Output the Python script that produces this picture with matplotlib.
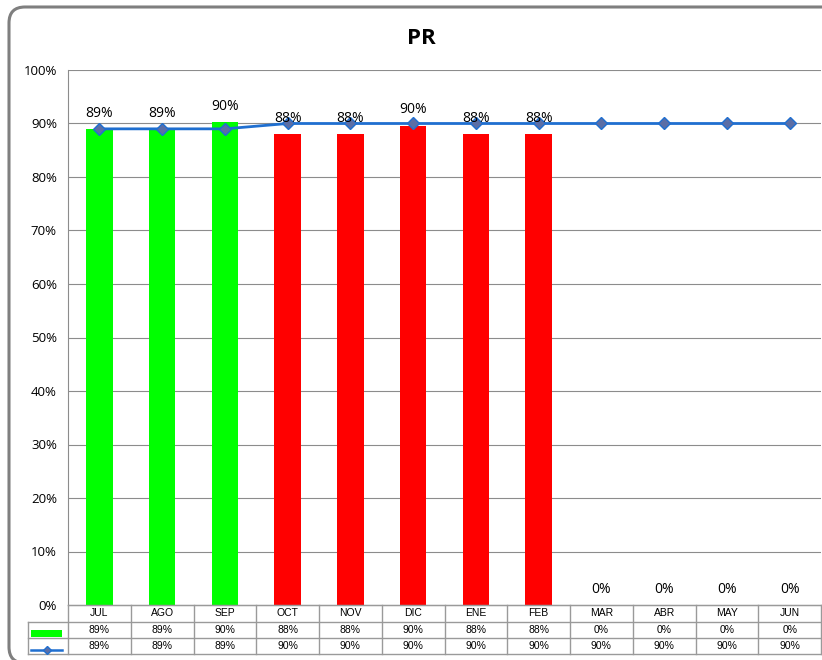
import matplotlib
matplotlib.use("Agg")
import matplotlib.pyplot as plt
from matplotlib.patches import Rectangle, PathPatch
from matplotlib.path import Path
from matplotlib.lines import Line2D
import numpy as np

months = ["JUL", "AGO", "SEP", "OCT", "NOV", "DIC", "ENE", "FEB", "MAR", "ABR", "MAY", "JUN"]
pr_values = [88.9, 88.9, 90.2, 88.0, 88.0, 89.6, 88.0, 88.0, 0, 0, 0, 0]
target_values = [89, 89, 89, 90, 90, 90, 90, 90, 90, 90, 90, 90]
bar_colors = ["#00FF00", "#00FF00", "#00FF00", "#FF0000", "#FF0000", "#FF0000",
              "#FF0000", "#FF0000", "#FF0000", "#FF0000", "#FF0000", "#FF0000"]
yticks = [0, 10, 20, 30, 40, 50, 60, 70, 80, 90, 100]

W, H = 822, 660
fig = plt.figure(figsize=(W / 100, H / 100), dpi=100)
fig.patch.set_facecolor("white")

def fx(px):
    return px / W

def fy(py):
    return 1 - py / H

# outer border: straight top running off the right edge, rounded left corners
r = 16
pts = [(835, 7), (9 + r, 7), (9, 7), (9, 7 + r), (9, 663 - r), (9, 663), (9 + r, 663), (835, 663)]
codes = [Path.MOVETO, Path.LINETO, Path.CURVE3, Path.CURVE3, Path.LINETO,
         Path.CURVE3, Path.CURVE3, Path.LINETO]
path = Path([(fx(a), fy(b)) for a, b in pts], codes)
fig.add_artist(PathPatch(path, transform=fig.transFigure, facecolor="none",
                         edgecolor="#7F7F7F", linewidth=2.2, zorder=0))

L, R, T, B = 68, 821, 70, 605
ax = fig.add_axes([fx(L), fy(B), fx(R) - fx(L), fy(T) - fy(B)])
n = len(months)
x = np.arange(n)
ax.set_xlim(-0.5, n - 0.5)
ax.set_ylim(0, 100)

for yv in yticks[1:]:
    ax.axhline(yv, color="#8C8C8C", linewidth=0.8, zorder=0)

ax.bar(x, pr_values, width=0.42, color=bar_colors, zorder=2)
ax.plot(x, target_values, color="#1F6FD0", linewidth=2, marker="D", markersize=6.5,
        markerfacecolor="#5B6EA6", markeredgecolor="#1F6FD0", markeredgewidth=1, zorder=3)

for xi, v in zip(x, pr_values):
    ax.annotate(f"{round(v):.0f}%", (xi, v), xytext=(0, 6), textcoords="offset points",
                ha="center", va="bottom", fontsize=10, family="Open Sans", zorder=4)

ax.set_yticks(yticks)
ax.set_yticklabels([f"{v}%" for v in yticks], family="Open Sans", fontsize=9.5)
ax.tick_params(axis="y", length=0, pad=8)
ax.set_xticks([])
for s in ["top", "right"]:
    ax.spines[s].set_visible(False)
ax.spines["left"].set_color("#8C8C8C")
ax.spines["bottom"].set_color("#8C8C8C")

fig.text(fx(421), fy(38), "PR", ha="center", va="center", fontsize=16,
         fontweight="bold", family="Open Sans")

# data table
cw = (R - L) / n
line_kw = dict(transform=fig.transFigure, color="#9A9A9A", linewidth=1)
tl = 28
rows = [605, 622, 638, 654]
fig.add_artist(Line2D([fx(L), fx(R)], [fy(605), fy(605)], **line_kw))
for ry in rows[1:]:
    fig.add_artist(Line2D([fx(tl), fx(R)], [fy(ry), fy(ry)], **line_kw))
for i in range(n + 1):
    xx = L + i * cw
    fig.add_artist(Line2D([fx(xx), fx(xx)], [fy(605), fy(654)], **line_kw))
fig.add_artist(Line2D([fx(tl), fx(tl)], [fy(622), fy(654)], **line_kw))

tk = dict(transform=fig.transFigure, ha="center", va="center", fontsize=7.5,
          family="Liberation Sans")
for i, m in enumerate(months):
    cx = L + (i + 0.5) * cw
    fig.text(fx(cx), fy(613.5), m, **tk)
    fig.text(fx(cx), fy(630), f"{round(pr_values[i]):.0f}%", **tk)
    fig.text(fx(cx), fy(646), f"{target_values[i]}%", **tk)

fig.add_artist(Rectangle((fx(31), fy(637)), fx(62) - fx(31), fy(630) - fy(637),
                         transform=fig.transFigure, facecolor="#00FF00", edgecolor="none"))
fig.add_artist(Line2D([fx(31), fx(62)], [fy(649.5), fy(649.5)], transform=fig.transFigure,
                      color="#1F6FD0", linewidth=1.8))
fig.add_artist(Line2D([fx(46.5)], [fy(649.5)], transform=fig.transFigure, marker="D",
                      markersize=4.5, markerfacecolor="#5B6EA6", markeredgecolor="#1F6FD0",
                      linestyle="none"))

fig.savefig("out.png", dpi=100, facecolor="white")
